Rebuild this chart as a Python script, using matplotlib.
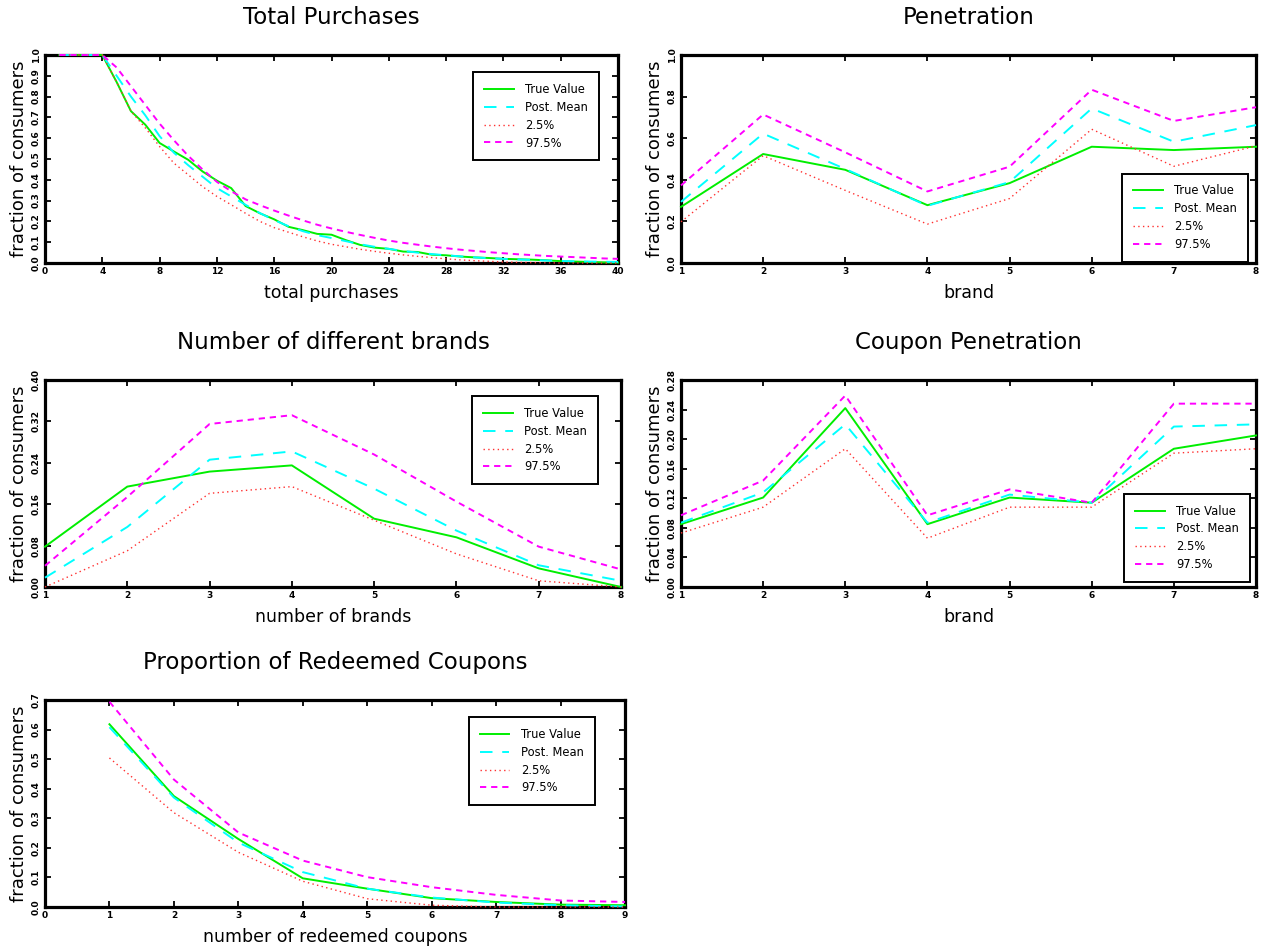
import numpy as np
import matplotlib
matplotlib.use("Agg")
import matplotlib.pyplot as plt

plt.rcParams['font.family'] = ['DejaVu Sans']
plt.rcParams['lines.scale_dashes'] = False

# ---- data ----
tp_x = list(range(1, 41))
tp_true = [1, 1, 1, 1, 0.87, 0.73, 0.665, 0.577, 0.536, 0.496, 0.44, 0.396, 0.36, 0.274,
           0.239, 0.21, 0.174, 0.158, 0.14, 0.136, 0.11, 0.087, 0.074, 0.068, 0.055, 0.053,
           0.04, 0.037, 0.031, 0.027, 0.024, 0.02, 0.018, 0.016, 0.013, 0.009, 0.007, 0.005,
           0.003, 0.002]
tp_mean = [1, 1, 1, 1, 0.9, 0.8, 0.71, 0.61, 0.53, 0.47, 0.415, 0.36, 0.32, 0.28, 0.24,
           0.206, 0.177, 0.153, 0.134, 0.12, 0.105, 0.09, 0.078, 0.068, 0.058, 0.05, 0.043,
           0.037, 0.032, 0.027, 0.023, 0.02, 0.017, 0.015, 0.012, 0.01, 0.008, 0.007, 0.006,
           0.005]
tp_lo = [1, 1, 1, 1, 0.87, 0.73, 0.65, 0.56, 0.48, 0.424, 0.367, 0.32, 0.28, 0.239, 0.2,
         0.17, 0.148, 0.126, 0.106, 0.09, 0.078, 0.066, 0.056, 0.047, 0.039, 0.032, 0.026,
         0.02, 0.015, 0.011, 0.008, 0.005, 0.003, 0.002, 0.001, 0, 0, 0, 0, 0]
tp_hi = [1, 1, 1, 1, 0.94, 0.85, 0.76, 0.67, 0.59, 0.515, 0.45, 0.39, 0.345, 0.306, 0.278,
         0.252, 0.228, 0.205, 0.184, 0.166, 0.15, 0.135, 0.121, 0.108, 0.097, 0.088, 0.079,
         0.071, 0.064, 0.058, 0.052, 0.047, 0.042, 0.038, 0.034, 0.031, 0.028, 0.025, 0.022,
         0.02]

brands = [1, 2, 3, 4, 5, 6, 7, 8]
pen_true = [0.27, 0.524, 0.448, 0.278, 0.384, 0.559, 0.543, 0.559]
pen_mean = [0.294, 0.622, 0.452, 0.275, 0.389, 0.743, 0.583, 0.663]
pen_lo = [0.198, 0.516, 0.349, 0.187, 0.31, 0.643, 0.465, 0.563]
pen_hi = [0.373, 0.714, 0.532, 0.344, 0.463, 0.833, 0.683, 0.749]

nb_true = [0.078, 0.194, 0.223, 0.235, 0.132, 0.096, 0.036, 0.0]
nb_mean = [0.018, 0.116, 0.246, 0.262, 0.19, 0.109, 0.042, 0.012]
nb_lo = [0.0, 0.07, 0.181, 0.194, 0.129, 0.064, 0.012, 0.0]
nb_hi = [0.041, 0.174, 0.315, 0.332, 0.256, 0.165, 0.078, 0.034]

cp_true = [0.085, 0.121, 0.242, 0.085, 0.121, 0.114, 0.187, 0.205]
cp_mean = [0.087, 0.128, 0.220, 0.087, 0.125, 0.114, 0.217, 0.220]
cp_lo = [0.073, 0.108, 0.187, 0.066, 0.108, 0.108, 0.181, 0.187]
cp_hi = [0.097, 0.144, 0.259, 0.097, 0.132, 0.114, 0.248, 0.248]

rc_x = [1, 2, 3, 4, 5, 6, 7, 8, 9]
rc_true = [0.618, 0.375, 0.23, 0.097, 0.062, 0.03, 0.017, 0.008, 0.006]
rc_mean = [0.608, 0.37, 0.218, 0.118, 0.062, 0.032, 0.015, 0.006, 0.002]
rc_lo = [0.504, 0.319, 0.185, 0.087, 0.028, 0.006, 0.0, 0.0, 0.0]
rc_hi = [0.694, 0.431, 0.252, 0.157, 0.101, 0.067, 0.041, 0.022, 0.017]

labels = ['True Value', 'Post. Mean', '2.5%', '97.5%']

W, H = 1270, 951
fig = plt.figure(figsize=(W / 100, H / 100), dpi=100)


def px_axes(left, top, right, bottom):
    return fig.add_axes([left / W, 1 - bottom / H, (right - left) / W, (bottom - top) / H])


def panel(ax, x, true, mean, lo, hi, title, xlabel, xlim, xticks, ylim, yticks, yfmt,
          leg_loc, leg_anchor):
    kw = dict(zorder=3, clip_on=False)
    ax.plot(x, true, color='#00ee00', lw=1.4, label=labels[0], **kw)
    ax.plot(x, mean, color='#00ffff', lw=1.4, linestyle=(0, (9, 7)), label=labels[1], **kw)
    ax.plot(x, lo, color='#ff3030', lw=1.0, linestyle=(0, (1, 2.4)), label=labels[2], **kw)
    ax.plot(x, hi, color='#ff00ff', lw=1.4, linestyle=(0, (4.5, 3.5)), label=labels[3], **kw)
    ax.set_xlim(*xlim)
    ax.set_ylim(*ylim)
    ax.set_xticks(xticks)
    ax.set_yticks(yticks)
    ax.set_xticklabels([str(t) for t in xticks], fontsize=6.5, fontweight='bold')
    ax.set_yticklabels([yfmt.format(t) for t in yticks], fontsize=6.5, fontweight='bold',
                       rotation=90, va='center')
    ax.tick_params(direction='in', length=4, width=1.3, top=True, right=True, pad=3)
    for s in ax.spines.values():
        s.set_linewidth(2.3)
    ax.set_title(title, fontsize=16.5, pad=22)
    ax.set_xlabel(xlabel, fontsize=12.5, labelpad=6)
    ax.set_ylabel('fraction of consumers', fontsize=13, labelpad=3)
    leg = ax.legend(loc=leg_loc, bbox_to_anchor=leg_anchor, fontsize=8.3, frameon=True,
                    fancybox=False, edgecolor='black', framealpha=1, handlelength=2.6,
                    labelspacing=0.42, borderpad=0.95, borderaxespad=0, handletextpad=1.0)
    leg.get_frame().set_linewidth(1.4)
    leg.set_zorder(5)


ax1 = px_axes(45, 55, 618, 263)
panel(ax1, tp_x, tp_true, tp_mean, tp_lo, tp_hi, 'Total Purchases', 'total purchases',
      (0, 40), list(range(0, 41, 4)), (0, 1.0), np.round(np.arange(0, 1.01, 0.1), 1),
      '{:.1f}', 'upper right', (0.967, 0.918))

ax2 = px_axes(681, 55, 1256, 263)
panel(ax2, brands, pen_true, pen_mean, pen_lo, pen_hi, 'Penetration', 'brand',
      (1, 8), brands, (0, 1.0), np.round(np.arange(0, 1.01, 0.2), 1),
      '{:.1f}', 'lower right', (0.986, 0.005))

ax3 = px_axes(45, 380, 621, 587)
panel(ax3, brands, nb_true, nb_mean, nb_lo, nb_hi, 'Number of different brands',
      'number of brands', (1, 8), brands, (0, 0.40), np.round(np.arange(0, 0.401, 0.08), 2),
      '{:.2f}', 'upper right', (0.96, 0.923))

ax4 = px_axes(681, 380, 1256, 587)
panel(ax4, brands, cp_true, cp_mean, cp_lo, cp_hi, 'Coupon Penetration', 'brand',
      (1, 8), brands, (0, 0.28), np.round(np.arange(0, 0.281, 0.04), 2),
      '{:.2f}', 'lower right', (0.99, 0.024))

ax5 = px_axes(45, 700, 625, 907)
panel(ax5, rc_x, rc_true, rc_mean, rc_lo, rc_hi, 'Proportion of Redeemed Coupons',
      'number of redeemed coupons', (0, 9), list(range(0, 10)), (0, 0.7),
      np.round(np.arange(0, 0.701, 0.1), 1), '{:.1f}', 'upper right', (0.948, 0.918))

fig.savefig('out.png', dpi=100)
